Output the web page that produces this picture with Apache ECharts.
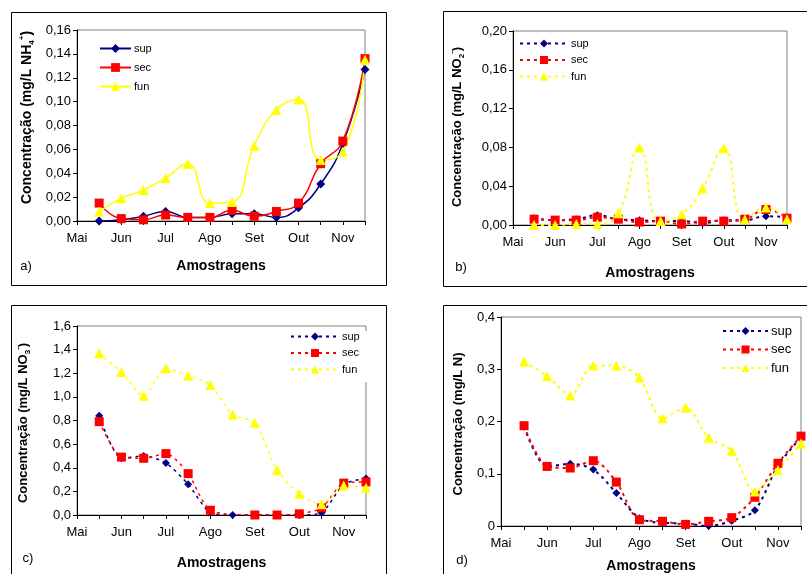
<!DOCTYPE html>
<html>
<head>
<meta charset="utf-8">
<script src="https://cdn.jsdelivr.net/npm/echarts@6/dist/echarts.min.js"></script>
<style>
html,body{margin:0;padding:0;background:#fff;}
#chart{width:807px;height:574px;}
</style>
</head>
<body>
<div id="chart"></div>
<script>
// ---- data ----
const months = ['Mai', 'Jun', 'Jul', 'Ago', 'Set', 'Out', 'Nov'];
const samples = [1, 2, 3, 4, 5, 6, 7, 8, 9, 10, 11, 12, 13];

const nh4_sup = [0.000, 0.001, 0.004, 0.008, 0.003, 0.003, 0.006, 0.006, 0.003, 0.011, 0.031, 0.065, 0.127];
const nh4_sec = [0.015, 0.002, 0.001, 0.005, 0.003, 0.003, 0.009, 0.004, 0.008, 0.015, 0.048, 0.067, 0.136];
const nh4_fun = [0.008, 0.019, 0.026, 0.036, 0.048, 0.015, 0.016, 0.063, 0.093, 0.102, 0.051, 0.058, 0.135];

const no2_sup = [0.007, 0.005, 0.006, 0.010, 0.006, 0.005, 0.004, 0.004, 0.002, 0.005, 0.005, 0.009, 0.008];
const no2_sec = [0.006, 0.005, 0.005, 0.008, 0.006, 0.003, 0.004, 0.001, 0.004, 0.004, 0.006, 0.016, 0.007];
const no2_fun = [0.000, 0.000, 0.001, 0.001, 0.012, 0.080, 0.004, 0.011, 0.038, 0.079, 0.006, 0.018, 0.006];

const no3_sup = [0.84, 0.48, 0.50, 0.44, 0.26, 0.02, 0.00, 0.00, 0.00, 0.00, 0.02, 0.26, 0.31];
const no3_sec = [0.79, 0.49, 0.48, 0.52, 0.35, 0.04, null, 0.00, 0.00, 0.01, 0.06, 0.27, 0.28];
const no3_fun = [1.37, 1.21, 1.01, 1.24, 1.18, 1.10, 0.85, 0.78, 0.38, 0.18, 0.09, 0.25, 0.23];

const n_sup = [0.190, 0.114, 0.119, 0.108, 0.063, 0.015, 0.006, 0.005, 0.000, 0.010, 0.030, 0.115, 0.170];
const n_sec = [0.192, 0.114, 0.111, 0.125, 0.084, 0.012, 0.009, 0.003, 0.009, 0.016, 0.055, 0.120, 0.172];
const n_fun = [0.315, 0.287, 0.250, 0.307, 0.307, 0.284, 0.206, 0.227, 0.169, 0.144, 0.066, 0.107, 0.158];

const seriesNames = ['sup', 'sec', 'fun'];
const yTitles = [
  '{t|Concentração (mg/L NH}{sub|4}{sup|+}{t|)}',
  '{t|Concentração (mg/L NO}{sub|2}{sup|-}{t|)}',
  '{t|Concentração (mg/L NO}{sub|3}{sup|-}{t|)}',
  '{t|Concentração (mg/L N)}'
];
const panelLabels = ['a)', 'b)', 'c)', 'd)'];

// ---- layout / style ----
const FONT = '"Liberation Sans", Arial, sans-serif';
const colors = ['#000080', '#FF0000', '#FFFF00'];
const symbols = ['diamond', 'rect', 'triangle'];

const panels = [
  { key: 'a', data: [nh4_sup, nh4_sec, nh4_fun], grid: {left: 77, top: 30, width: 288, height: 191},
    max: 0.16, interval: 0.02, dec: 2, zeroPlain: false, dashed: false, smooth: 0.5, lw: 1.5,
    symSize: [9, 9, 10], titleSize: 14, yGap: 41, titlePad: [0, 0, 0, 16], xGap: 38,
    legend: {left: 99, top: 43, itemWidth: 31, itemHeight: 11, itemGap: 8, fontSize: 11} },
  { key: 'b', data: [no2_sup, no2_sec, no2_fun], grid: {left: 513, top: 31, width: 274, height: 194},
    max: 0.20, interval: 0.04, dec: 2, zeroPlain: false, dashed: true, smooth: 0.5, lw: 2,
    symSize: [8, 9, 10], titleSize: 13, yGap: 47, titlePad: [0, 0, 0, 2], xGap: 41,
    legend: {left: 519, top: 38, itemWidth: 48, itemHeight: 10, itemGap: 5.5, fontSize: 11} },
  { key: 'c', data: [no3_sup, no3_sec, no3_fun], grid: {left: 77, top: 326, width: 289, height: 189},
    max: 1.6, interval: 0.2, dec: 1, zeroPlain: false, dashed: true, smooth: 0.25, lw: 1.5,
    symSize: [8, 9, 10], titleSize: 13, yGap: 45, titlePad: [0, 5, 0, 0], xGap: 41,
    legend: {left: 290, top: 331, itemWidth: 48, itemHeight: 10, itemGap: 5.5, fontSize: 11, bg: true} },
  { key: 'd', data: [n_sup, n_sec, n_fun], grid: {left: 501, top: 317, width: 300, height: 209},
    max: 0.4, interval: 0.1, dec: 1, zeroPlain: true, dashed: true, smooth: 0.3, lw: 2,
    symSize: [8, 9, 10], titleSize: 13, yGap: 34, titlePad: [0, 5, 0, 0], xGap: 33,
    legend: {left: 722, top: 324.5, itemWidth: 45, itemHeight: 10, itemGap: 5.5, fontSize: 13} }
];

const grids = [], xAxes = [], yAxes = [], series = [], legends = [];

panels.forEach((p, i) => {
  grids.push(Object.assign({show: true, borderColor: '#808080', borderWidth: 1, backgroundColor: 'transparent',
    containLabel: false, outerBoundsMode: 'none'}, p.grid));
  xAxes.push({
    gridIndex: i, type: 'value', min: 0, max: 13, interval: 1,
    axisLine: {show: true, onZero: false, lineStyle: {color: '#000', width: 1}},
    axisTick: {show: true, length: 4, lineStyle: {color: '#000'}},
    axisLabel: {fontFamily: FONT, fontSize: 13, color: '#000', margin: 11,
      formatter: v => (v % 2 === 0 && v / 2 < months.length) ? months[v / 2] : ''},
    splitLine: {show: false},
    name: 'Amostragens', nameLocation: 'middle', nameGap: p.xGap,
    nameTextStyle: {fontFamily: FONT, fontSize: 14, fontWeight: 'bold', color: '#000'}
  });
  yAxes.push({
    gridIndex: i, type: 'value', min: 0, max: p.max, interval: p.interval,
    axisLine: {show: true, lineStyle: {color: '#000', width: 1}},
    axisTick: {show: true, length: 4, lineStyle: {color: '#000'}},
    axisLabel: {fontFamily: FONT, fontSize: 13, color: '#000', margin: 6,
      formatter: v => (p.zeroPlain && v === 0) ? '0' : v.toFixed(p.dec).replace('.', ',')},
    splitLine: {show: false},
    name: yTitles[i], nameLocation: 'middle', nameGap: p.yGap, nameRotate: 90,
    nameTextStyle: {
      fontFamily: FONT, fontSize: p.titleSize, fontWeight: 'bold', color: '#000', lineHeight: 18,
      padding: p.titlePad,
      rich: {
        t: {fontFamily: FONT, fontSize: p.titleSize, fontWeight: 'bold', color: '#000', lineHeight: 18},
        sub: {fontFamily: FONT, fontSize: 8, fontWeight: 'bold', color: '#000', lineHeight: 8, verticalAlign: 'bottom'},
        sup: {fontFamily: FONT, fontSize: 8, fontWeight: 'bold', color: '#000', lineHeight: 8, verticalAlign: 'top'}
      }
    }
  });
  const names = [];
  p.data.forEach((vals, k) => {
    const nm = p.key + '_' + seriesNames[k];
    names.push(nm);
    series.push({
      type: 'line', name: nm, xAxisIndex: i, yAxisIndex: i,
      data: samples.map((x, j) => [x, vals[j]]),
      connectNulls: true,
      smooth: p.smooth,
      symbol: symbols[k], symbolSize: p.symSize[k],
      showAllSymbol: true,
      itemStyle: {color: colors[k], borderWidth: 0},
      lineStyle: {color: colors[k], width: p.lw, type: p.dashed ? [3, 4] : 'solid'},
      emphasis: {disabled: true},
      animation: false
    });
  });
  legends.push({
    data: names, orient: 'vertical', left: p.legend.left, top: p.legend.top,
    itemWidth: p.legend.itemWidth, itemHeight: p.legend.itemHeight, itemGap: p.legend.itemGap,
    padding: p.legend.bg ? [0, 8, 7, 0] : 0,
    backgroundColor: p.legend.bg ? '#fff' : 'transparent',
    selectedMode: false,
    formatter: name => name.split('_')[1],
    textStyle: {fontFamily: FONT, fontSize: p.legend.fontSize, color: '#000', padding: [0, 0, 0, -2]}
  });
});

const graphic = [
  {type: 'rect', shape: {x: 11.5, y: 12.5, width: 375, height: 273}, style: {fill: 'none', stroke: '#000', lineWidth: 1}, silent: true},
  {type: 'rect', shape: {x: 443.5, y: 11.5, width: 400, height: 275}, style: {fill: 'none', stroke: '#000', lineWidth: 1}, silent: true},
  {type: 'rect', shape: {x: 11.5, y: 305.5, width: 375, height: 300}, style: {fill: 'none', stroke: '#000', lineWidth: 1}, silent: true},
  {type: 'rect', shape: {x: 443.5, y: 305.5, width: 400, height: 300}, style: {fill: 'none', stroke: '#000', lineWidth: 1}, silent: true},
  {type: 'text', x: 26, y: 266, style: {text: panelLabels[0], font: '13px ' + FONT, fill: '#000', textAlign: 'center', textVerticalAlign: 'middle'}},
  {type: 'text', x: 461, y: 267, style: {text: panelLabels[1], font: '13px ' + FONT, fill: '#000', textAlign: 'center', textVerticalAlign: 'middle'}},
  {type: 'text', x: 28, y: 558, style: {text: panelLabels[2], font: '13px ' + FONT, fill: '#000', textAlign: 'center', textVerticalAlign: 'middle'}},
  {type: 'text', x: 462, y: 560, style: {text: panelLabels[3], font: '13px ' + FONT, fill: '#000', textAlign: 'center', textVerticalAlign: 'middle'}}
];

const chart = echarts.init(document.getElementById('chart'), null, {renderer: 'canvas'});
chart.setOption({
  backgroundColor: '#fff',
  animation: false,
  textStyle: {fontFamily: FONT},
  grid: grids, xAxis: xAxes, yAxis: yAxes, series: series, legend: legends, graphic: graphic
});
</script>
</body>
</html>
